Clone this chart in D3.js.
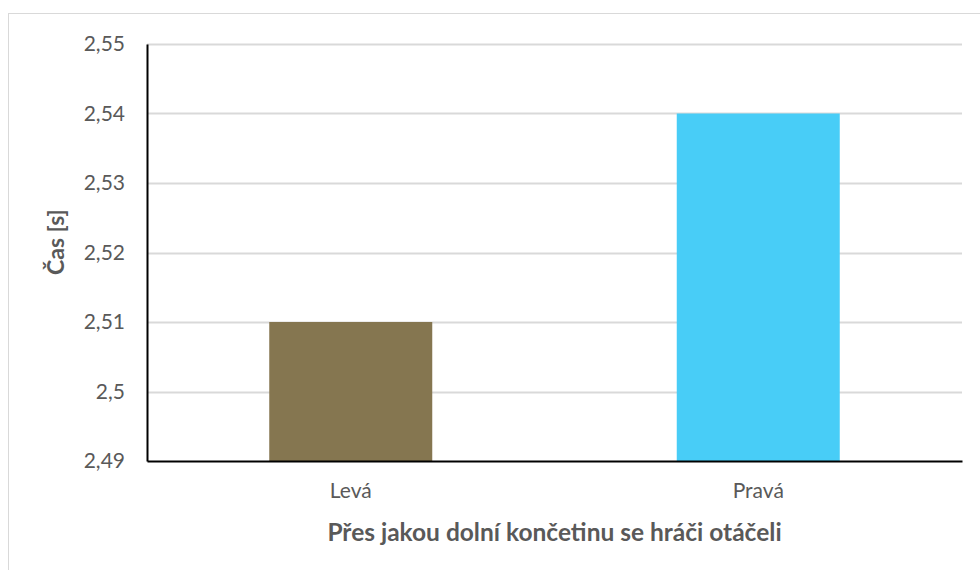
<!DOCTYPE html>
<html>
<head>
<meta charset="utf-8">
<script src="https://cdn.jsdelivr.net/npm/d3@7"></script>
<style>
  body { margin: 0; background: #fff; }
  text { font-family: Lato, "Open Sans", sans-serif; fill: #595959; }
</style>
</head>
<body>
<div id="chart"></div>
<script>
const categories = ["Levá", "Pravá"];
const values = [2.51, 2.54];
const colors = ["#857650", "#48cdf7"];
const yTicks = [2.49, 2.50, 2.51, 2.52, 2.53, 2.54, 2.55];

const width = 980,
  height = 570,
  margin = { top: 44, bottom: 109, left: 147, right: 18 };

const svg = d3.select("#chart")
  .append("svg")
  .attr("width", width)
  .attr("height", height);

// chart frame (only top/left are visible in the crop)
svg.append("rect")
  .attr("x", 8.5)
  .attr("y", 13.5)
  .attr("width", 1000)
  .attr("height", 600)
  .attr("fill", "none")
  .attr("stroke", "#d9d9d9");

const xScale = d3.scaleBand()
  .domain(categories)
  .range([margin.left, width - margin.right])
  .paddingInner(0.6)
  .paddingOuter(0.3);

const yScale = d3.scaleLinear()
  .domain([2.49, 2.55])
  .range([height - margin.bottom, margin.top]);

const fmt = d => d3.format(".2~f")(d).replace(".", ",");

// gridlines
svg.append("g")
  .selectAll("line")
  .data(yTicks.slice(1))
  .join("line")
  .attr("x1", margin.left)
  .attr("x2", width - margin.right)
  .attr("y1", d => Math.round(yScale(d)) + 0.5)
  .attr("y2", d => Math.round(yScale(d)) + 0.5)
  .attr("stroke", "#d9d9d9")
  .attr("stroke-width", 2);

// bars
svg.append("g")
  .selectAll("rect")
  .data(values)
  .join("rect")
  .attr("x", (d, i) => xScale(categories[i]))
  .attr("width", xScale.bandwidth())
  .attr("y", d => yScale(d))
  .attr("height", d => yScale(2.49) - yScale(d))
  .attr("fill", (d, i) => colors[i]);

// y axis
const yAxis = d3.axisLeft(yScale)
  .tickValues(yTicks)
  .tickFormat(fmt)
  .tickSize(0)
  .tickPadding(22);

svg.append("g")
  .attr("transform", `translate(${margin.left},0)`)
  .call(yAxis)
  .call(g => g.select(".domain").attr("stroke", "#000").attr("stroke-width", 2))
  .selectAll("text")
  .style("font-size", "21px")
  .attr("fill", "#595959");

// x axis
const xAxis = d3.axisBottom(xScale)
  .tickSize(0)
  .tickPadding(22);

svg.append("g")
  .attr("transform", `translate(0,${height - margin.bottom})`)
  .call(xAxis)
  .call(g => g.select(".domain").attr("stroke", "#000").attr("stroke-width", 2))
  .selectAll("text")
  .style("font-size", "21px")
  .attr("fill", "#595959");

// axis titles
svg.append("text")
  .attr("x", (margin.left + width - margin.right) / 2)
  .attr("y", 541)
  .attr("text-anchor", "middle")
  .style("font-size", "24.5px")
  .style("font-weight", "bold")
  .text("Přes jakou dolní končetinu se hráči otáčeli");

svg.append("text")
  .attr("transform", `translate(64,${yScale(2.5215)}) rotate(-90)`)
  .attr("text-anchor", "middle")
  .style("font-size", "23px")
  .style("font-weight", "bold")
  .text("Čas [s]");
</script>
</body>
</html>
